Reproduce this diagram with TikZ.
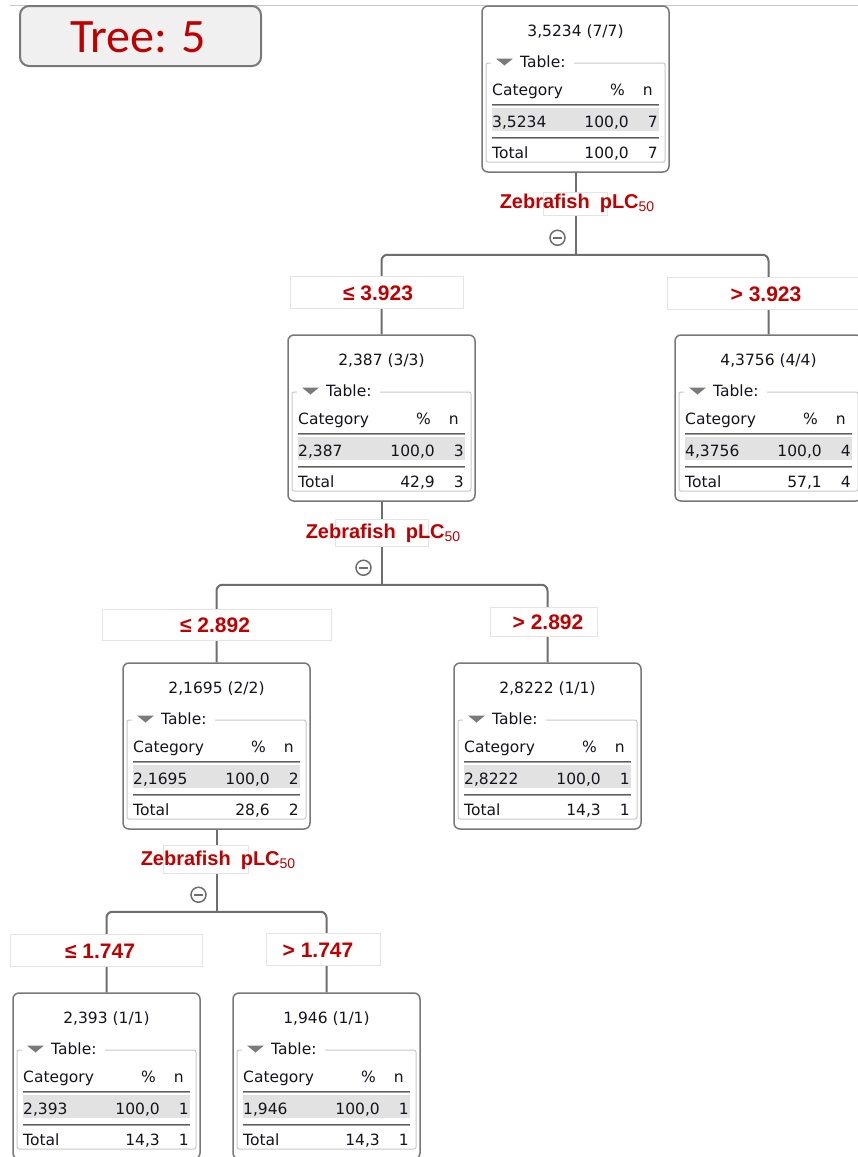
\documentclass[tikz,border=0pt]{standalone}
\usepackage{fontspec}
\usetikzlibrary{calc}
\newfontfamily\tabfont{DejaVu Sans}
\newfontfamily\lblfont{Liberation Sans}
\newfontfamily\headfont{Carlito}

\definecolor{boxgray}{HTML}{787878}
\definecolor{conngray}{HTML}{6E6E6E}
\definecolor{lblred}{HTML}{C00000}
\definecolor{txtcol}{HTML}{14141E}
\definecolor{fsgray}{HTML}{C8C8C8}
\definecolor{rowgray}{HTML}{E2E2E2}
\definecolor{trigray}{HTML}{7A7A7A}
\definecolor{rulegray}{HTML}{5E5E5E}
\definecolor{rulelightgray}{HTML}{A0A0A0}
\definecolor{faint}{HTML}{E4E4E4}
\definecolor{titlefill}{HTML}{F0F0F0}

\tikzset{
  nodebox/.style={draw=boxgray, line width=1.5pt, rounded corners=6pt, fill=white,
    minimum width=187pt, minimum height=166pt, inner sep=0pt},
  txt/.style={inner sep=0pt, text=txtcol, font={\tabfont\fontsize{15.5}{18}\selectfont}},
  fieldset/.style={draw=fsgray, line width=1pt, rounded corners=2pt},
  rule/.style={draw=rulegray, line width=1.8pt},
  rulelight/.style={draw=rulelightgray, line width=1pt},
  conn/.style={draw=conngray, line width=2pt, rounded corners=6pt},
  lblbox/.style={draw=faint, line width=0.8pt, fill=white, inner sep=0pt},
  thr/.style={inner sep=0pt, text=lblred, font={\lblfont\bfseries\fontsize{21}{24}\selectfont}},
  splitlbl/.style={inner sep=0pt, text=lblred, font={\lblfont\bfseries\fontsize{20}{24}\selectfont}},
  minuscirc/.style={circle, draw=conngray, line width=1.5pt, minimum size=15pt, inner sep=0pt, fill=white},
  minusbar/.style={draw=conngray, line width=1.5pt},
  titlebox/.style={draw=boxgray, line width=2pt, rounded corners=9pt, fill=titlefill,
    minimum width=241pt, minimum height=60pt, inner sep=0pt},
}

% One decision-tree box: name, top-left x, top-left y, title, category, percent, n, total percent
\newcommand\treebox[8]{%
  \node[nodebox] (#1) at ({#2+93.5},{#3+83}) {};
  \begin{scope}[shift={(#2,#3)}]
    \draw[fieldset] (4,57) rectangle (183,156);
    \fill[white] (9,50) rectangle (92,64);
    \fill[trigray] (14,52.5) -- (31,52.5) -- (22.5,59.5) -- cycle;
    \node[txt, anchor=base west] (#1-tab) at (38,61) {Table:};
    \node[txt, anchor=base] (#1-title) at (93.5,30.5) {#4};
    \node[txt, anchor=base west] (#1-hc) at (10,89.5) {Category};
    \node[txt, anchor=base east] (#1-hp) at (143,89.5) {\%};
    \node[txt, anchor=base east] (#1-hn) at (171,89.5) {n};
    \draw[rule] (10,98.5) -- (177,98.5);
    \draw[rulelight] (10,99.9) -- (177,99.9);
    \fill[rowgray] (10,101.5) rectangle (177,125);
    \node[txt, anchor=base west] (#1-rc) at (10,121) {#5};
    \node[txt, anchor=base east] (#1-rp) at (147,121) {#6};
    \node[txt, anchor=base east] (#1-rn) at (176,121) {#7};
    \draw[rule] (10,131.5) -- (177,131.5);
    \draw[rulelight] (10,132.9) -- (177,132.9);
    \node[txt, anchor=base west] (#1-tc) at (10,152.5) {Total};
    \node[txt, anchor=base east] (#1-tp) at (147,152.5) {#8};
    \node[txt, anchor=base east] (#1-tn) at (176,152.5) {#7};
  \end{scope}}

% Split marker (circled minus) beside a branching point
\newcommand\splitmark[2]{%
  \node[minuscirc] (#1) at ($(#2)+(-18,-17)$) {};
  \draw[minusbar] ($(#1.center)+(-4.5,0)$) -- ($(#1.center)+(4.5,0)$);}

\begin{document}
\begin{tikzpicture}[x=1pt, y=-1pt]
  \useasboundingbox (0,0) rectangle (858,1157);
  \fill[white] (0,0) rectangle (858,1157);

  % top rule and heading
  \draw[fsgray, line width=1pt] (10,5) -- (858,5);
  \node[titlebox] (title) at (140.5,36) {};
  \node[inner sep=0pt, anchor=base, text=lblred, font={\headfont\fontsize{48}{52}\selectfont}]
    (titletext) at (138,52) {Tree: 5};

  % boxes
  \treebox{root}{482}{6}{3,5234 (7/7)}{3,5234}{100,0}{7}{100,0}
  \treebox{n2}{288}{335}{2,387 (3/3)}{2,387}{100,0}{3}{42,9}
  \treebox{n3}{675}{335}{4,3756 (4/4)}{4,3756}{100,0}{4}{57,1}
  \treebox{n4}{123}{663}{2,1695 (2/2)}{2,1695}{100,0}{2}{28,6}
  \treebox{n5}{454}{663}{2,8222 (1/1)}{2,8222}{100,0}{1}{14,3}
  \treebox{n6}{13}{993}{2,393 (1/1)}{2,393}{100,0}{1}{14,3}
  \treebox{n7}{233}{993}{1,946 (1/1)}{1,946}{100,0}{1}{14,3}

  % connectors
  \coordinate (s1) at ($(root.south)+(0,82)$);
  \coordinate (s2) at ($(n2.south)+(0,83)$);
  \coordinate (s3) at ($(n4.south)+(0,82)$);
  \draw[conn] (root.south) -- (s1);
  \draw[conn] (n2.north) |- (s1) -| (n3.north);
  \draw[conn] (n2.south) -- (s2);
  \draw[conn] (n4.north) |- (s2) -| (n5.north);
  \draw[conn] (n4.south) -- (s3);
  \draw[conn] (n6.north) |- (s3) -| (n7.north);

  % split markers
  \splitmark{m1}{s1}
  \splitmark{m2}{s2}
  \splitmark{m3}{s3}

  % split variable labels
  \node[lblbox, minimum width=64pt, minimum height=23pt] (zb1) at (575,203.5) {};
  \node[lblbox, minimum width=93pt, minimum height=27pt] (zb2) at (381.5,532.5) {};
  \node[lblbox, minimum width=85pt, minimum height=28pt] (zb3) at (205.5,859) {};
  \node[splitlbl, anchor=base] (z1) at ($(root.south)+(1.5,36)$)
    {Zebrafish\hspace{10pt}pLC{\mdseries\fontsize{14}{14}\selectfont\raisebox{-3pt}{50}}};
  \node[splitlbl, anchor=base] (z2) at ($(n2.south)+(1.5,37)$)
    {Zebrafish\hspace{10pt}pLC{\mdseries\fontsize{14}{14}\selectfont\raisebox{-3pt}{50}}};
  \node[splitlbl, anchor=base] (z3) at ($(n4.south)+(1.5,36)$)
    {Zebrafish\hspace{10pt}pLC{\mdseries\fontsize{14}{14}\selectfont\raisebox{-3pt}{50}}};

  % threshold labels
  \node[lblbox, minimum width=173pt, minimum height=32pt] (lb1) at (376.5,292) {};
  \node[thr, anchor=base] (lt1) at (378,300) {≤ 3.923};
  \node[lblbox, minimum width=203pt, minimum height=32pt] (rb1) at (768.5,293) {};
  \node[thr, anchor=base] (rt1) at (766,301) {> 3.923};
  \node[lblbox, minimum width=229pt, minimum height=31pt] (lb2) at (216.5,624.5) {};
  \node[thr, anchor=base] (lt2) at (215,632) {≤ 2.892};
  \node[lblbox, minimum width=107pt, minimum height=29pt] (rb2) at (543.5,621.5) {};
  \node[thr, anchor=base] (rt2) at (548,629.5) {> 2.892};
  \node[lblbox, minimum width=192pt, minimum height=32pt] (lb3) at (106,950) {};
  \node[thr, anchor=base] (lt3) at (100,958) {≤ 1.747};
  \node[lblbox, minimum width=114pt, minimum height=32pt] (rb3) at (323,949) {};
  \node[thr, anchor=base] (rt3) at (318,957) {> 1.747};
\end{tikzpicture}
\end{document}
